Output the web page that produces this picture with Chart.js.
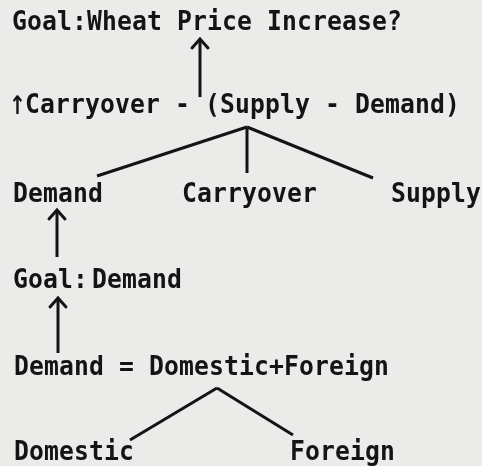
<!DOCTYPE html>
<html>
<head>
<meta charset="utf-8">
<script src="https://cdn.jsdelivr.net/npm/chart.js@4.4.1/dist/chart.umd.min.js"></script>
<style>
  html, body { margin: 0; padding: 0; background: #ebebea; }
  #c { display: block; }
</style>
</head>
<body>
<canvas id="c" width="482" height="466"></canvas>
<script>
// Diagram content (positions in diagram units: x right, y down, 482 x 466 field)
const nodeTexts = ["Goal:Wheat Price Increase?", "\u2191Carryover - (Supply - Demand)", "Demand", "Carryover", "Supply", "Goal:", "Demand", "Demand = Domestic+Foreign", "Domestic", "Foreign"];
const nodeX = [12, 10, 13, 182, 391, 13, 92, 14, 14, 290];
const nodeY = [30, 113, 202, 202, 202, 288, 288, 375, 460, 460];

// Tree branch lines: from apex to child
const branchFromX = [247, 247, 247, 217, 217];
const branchFromY = [127, 127, 127, 388, 388];
const branchToX   = [97, 247, 373, 130, 293];
const branchToY   = [176, 173, 178, 440, 435];

// Vertical arrows: x, tail y, tip y
const arrowX    = [200, 57, 58];
const arrowTail = [97, 257, 353];
const arrowTip  = [39, 210, 298];

const ink = '#141414';
const pitch = 15;

const datasets = [];
for (let i = 0; i < branchFromX.length; i++) {
  datasets.push({
    data: [{x: branchFromX[i], y: branchFromY[i]}, {x: branchToX[i], y: branchToY[i]}],
    showLine: true, borderColor: ink, borderWidth: 3, pointRadius: 0, fill: false
  });
}
for (let i = 0; i < arrowX.length; i++) {
  datasets.push({
    data: [{x: arrowX[i], y: arrowTail[i]}, {x: arrowX[i], y: arrowTip[i]}],
    showLine: true, borderColor: ink, borderWidth: 3, pointRadius: 0, fill: false
  });
}

const bgPlugin = {
  id: 'bg',
  beforeDraw(chart) {
    const ctx = chart.ctx;
    ctx.save();
    ctx.fillStyle = '#ebebea';
    ctx.fillRect(0, 0, chart.width, chart.height);
    ctx.restore();
  }
};

const textPlugin = {
  id: 'texts',
  afterDatasetsDraw(chart) {
    const ctx = chart.ctx;
    const xs = chart.scales.x, ys = chart.scales.y;
    ctx.save();
    // arrow heads
    ctx.strokeStyle = ink;
    ctx.lineWidth = 3;
    ctx.lineCap = 'round';
    for (let i = 0; i < arrowX.length; i++) {
      const px = xs.getPixelForValue(arrowX[i]);
      const py = ys.getPixelForValue(arrowTip[i]);
      ctx.beginPath();
      ctx.moveTo(px - 8, py + 9);
      ctx.lineTo(px, py);
      ctx.lineTo(px + 8, py + 9);
      ctx.stroke();
    }
    // text, drawn on a fixed typewriter pitch
    ctx.fillStyle = ink;
    ctx.textBaseline = 'alphabetic';
    ctx.textAlign = 'center';
    for (let i = 0; i < nodeTexts.length; i++) {
      const t = nodeTexts[i];
      const px = xs.getPixelForValue(nodeX[i]);
      const py = ys.getPixelForValue(nodeY[i]);
      for (let k = 0; k < t.length; k++) {
        const ch = t[k];
        ctx.save();
        ctx.translate(px + k * pitch + pitch / 2, py);
        if (ch === '\u2191') {
          ctx.font = 'bold 34px "DejaVu Sans"';
          ctx.scale(0.6, 0.75);
          ctx.fillText(ch, 0, 1);
        } else {
          ctx.font = 'bold 26px "DejaVu Sans Mono"';
          ctx.scale(0.95, 1);
          ctx.fillText(ch, 0, 0);
        }
        ctx.restore();
      }
    }
    ctx.restore();
  }
};

new Chart(document.getElementById('c'), {
  type: 'scatter',
  data: { datasets },
  options: {
    responsive: false,
    animation: false,
    layout: { padding: 0 },
    plugins: { legend: { display: false }, tooltip: { enabled: false } },
    scales: {
      x: { type: 'linear', min: 0, max: 482, display: false },
      y: { type: 'linear', min: 0, max: 466, reverse: true, display: false }
    }
  },
  plugins: [bgPlugin, textPlugin]
});
</script>
</body>
</html>
